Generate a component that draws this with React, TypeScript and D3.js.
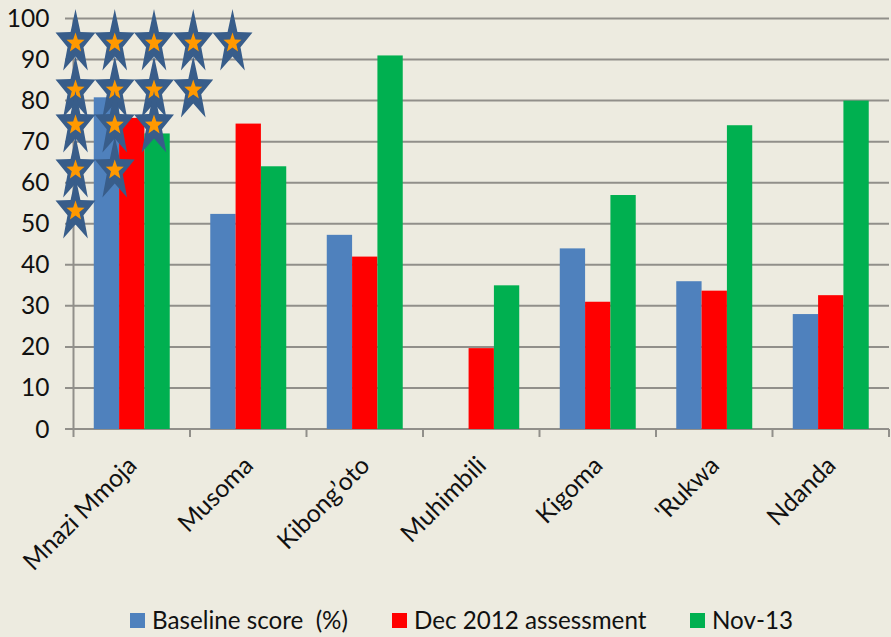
import React from "react";
import * as d3 from "d3";

const categories = ["Mnazi Mmoja", "Musoma", "Kibong’oto", "Muhimbili", "Kigoma", "'Rukwa", "Ndanda"];
const seriesNames = ["Baseline score  (%)", "Dec 2012 assessment", "Nov-13"];
const baseline: (number | null)[] = [80.8, 52.4, 47.3, null, 44, 36, 28];
const dec2012: number[] = [75.8, 74.4, 42, 19.7, 31, 33.7, 32.6];
const nov13: number[] = [72, 64, 91, 35, 57, 74, 80];
const colors = ["#4F81BD", "#FF0000", "#00B050"];
const yTicks = [0, 10, 20, 30, 40, 50, 60, 70, 80, 90, 100];
const starRowY = [43, 90, 125, 170, 211];
const starRowCounts = [5, 4, 3, 2, 1];
const legendX = [130, 392, 690];
const legendLabelX = [152, 414, 712];

const W = 891, H = 637;
const FONT = "Lato, 'Open Sans', sans-serif";
const x0 = d3.scaleBand<string>().domain(categories).range([73.5, 889]);
const x1 = d3.scaleBand<number>().domain([0, 1, 2]).range([0, x0.bandwidth()]).paddingInner(0).paddingOuter(0.8);
const y = d3.scaleLinear().domain([0, 100]).range([429, 18.5]);
const starX = d3.scaleLinear().domain([0, 4]).range([75.5, 232.5]);

function starPath(rx: number, ry: number, inner: number) {
  const pts: [number, number][] = d3.range(10).map((i) => {
    const a = -Math.PI / 2 + (i * Math.PI) / 5;
    const k = i % 2 ? inner : 1;
    return [rx * k * Math.cos(a), ry * k * Math.sin(a)];
  });
  return d3.line()(pts) + "Z";
}
const outerStar = starPath(21, 34, 0.4);
const innerStar = starPath(9.5, 10.5, 0.42);

export default function App() {
  const series = [baseline, dec2012, nov13];
  return (
    <svg width={W} height={H} style={{ position: "absolute", left: 0, top: 0, background: "#EDEBE0" }} fontFamily={FONT}>
      {yTicks.map((t) => (
        <g key={t}>
          <line x1={65} x2={889} y1={y(t)} y2={y(t)} stroke="#918F8A" strokeWidth={2} />
          <text x={49.5} y={y(t) + 8.5} fontSize={24.5} textAnchor="end" fill="#111">{t}</text>
        </g>
      ))}
      <line x1={73.5} x2={73.5} y1={y(100)} y2={y(0)} stroke="#918F8A" strokeWidth={2} />
      {[...categories.map((c) => x0(c)!), 889].map((v, i) => (
        <line key={i} x1={v} x2={v} y1={y(0)} y2={437} stroke="#918F8A" strokeWidth={2} />
      ))}
      {categories.map((c, ci) =>
        series.map((s, si) => {
          const v = s[ci];
          if (v == null) return null;
          return (
            <rect key={c + si} x={x0(c)! + x1(si)!} width={x1.bandwidth()} y={y(v)} height={y(0) - y(v)} fill={colors[si]} />
          );
        })
      )}
      {categories.map((c) => {
        const cx = x0(c)! + x0.bandwidth() / 2 + 6.5;
        return (
          <text key={c} transform={`translate(${cx},${467}) rotate(-45)`} fontSize={24.8} textAnchor="end" fill="#111">{c}</text>
        );
      })}
      {starRowY.map((sy, r) =>
        d3.range(starRowCounts[r]).map((i) => (
          <g key={`${r}-${i}`} transform={`translate(${starX(i)},${sy})`}>
            <path d={outerStar} fill="#385D8A" />
            <path d={innerStar} fill="#FF9900" />
          </g>
        ))
      )}
      {seriesNames.map((n, i) => (
        <g key={n}>
          <rect x={legendX[i]} y={613} width={15} height={15} fill={colors[i]} />
          <text x={legendLabelX[i]} y={629} fontSize={24.2} fill="#111" xmlSpace="preserve" style={{ whiteSpace: "pre" }}>{n}</text>
        </g>
      ))}
    </svg>
  );
}
